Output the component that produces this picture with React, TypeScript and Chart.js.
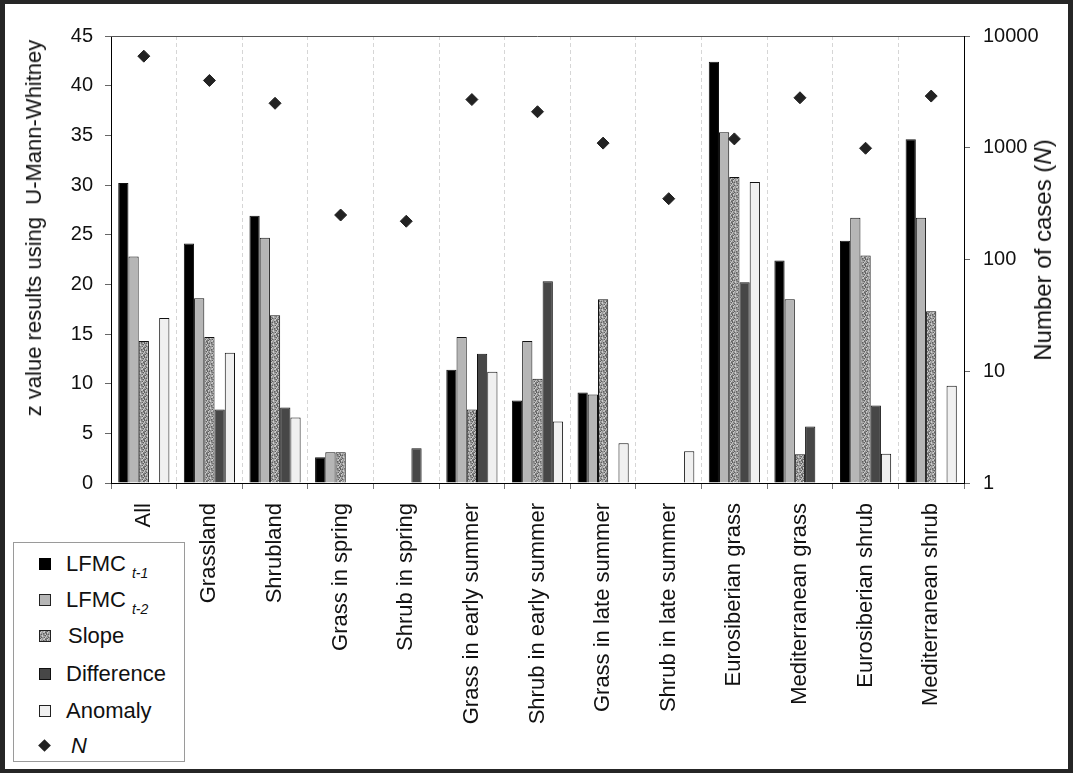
import React, { useEffect, useRef } from 'react';
import { Chart, registerables } from 'chart.js';

Chart.register(...registerables);

const categories = [
  'All',
  'Grassland',
  'Shrubland',
  'Grass in spring',
  'Shrub in spring',
  'Grass in early summer',
  'Shrub in early summer',
  'Grass in late summer',
  'Shrub in late summer',
  'Eurosiberian grass',
  'Mediterranean grass',
  'Eurosiberian shrub',
  'Mediterranean shrub',
];

const lfmcT1 = [30.2, 24.1, 26.9, 2.6, null, 11.4, 8.3, 9.1, null, 42.4, 22.4, 24.4, 34.6];
const lfmcT2 = [22.8, 18.6, 24.7, 3.1, null, 14.7, 14.3, 8.9, null, 35.3, 18.5, 26.7, 26.7];
const slope = [14.3, 14.7, 16.9, 3.1, null, 7.4, 10.5, 18.5, null, 30.8, 2.9, 22.9, 17.3];
const difference = [null, 7.4, 7.6, null, 3.5, 13.0, 20.3, null, null, 20.2, 5.7, 7.8, null];
const anomaly = [16.6, 13.1, 6.6, null, null, 11.2, 6.2, 4.0, 3.2, 30.3, null, 2.95, 9.8];
const nCases = [6600, 4000, 2500, 250, 220, 2700, 2100, 1100, 350, 1200, 2800, 990, 2900];

const leftTicks = [0, 45, 5];
const rightTicks = [1, 10, 100, 1000, 10000];

const FONT = '"Liberation Sans", Arial, Helvetica, sans-serif';

function makeSpeckleTile(): HTMLCanvasElement {
  const size = 7;
  const c = document.createElement('canvas');
  c.width = size;
  c.height = size;
  const ctx = c.getContext('2d')!;
  const img = ctx.createImageData(size, size);
  const shades = [95, 140, 170, 190, 120, 205, 150];
  for (let y = 0; y < size; y++) {
    for (let x = 0; x < size; x++) {
      const k = (x * 3 + y * 5 + ((x * y) % 4)) % shades.length;
      const g = shades[k];
      const i = (y * size + x) * 4;
      img.data[i] = g;
      img.data[i + 1] = g;
      img.data[i + 2] = g;
      img.data[i + 3] = 255;
    }
  }
  ctx.putImageData(img, 0, 0);
  return c;
}

const COL_T1 = '#000000';
const COL_T2 = '#b6b6b6';
const COL_DIFF = '#474747';
const COL_ANOM = '#f0f0f0';
const COL_N = '#222222';

const topBorderPlugin = {
  id: 'topBorder',
  afterDraw(chart: any) {
    const { ctx, chartArea } = chart;
    ctx.save();
    ctx.strokeStyle = '#555';
    ctx.lineWidth = 1;
    ctx.beginPath();
    ctx.moveTo(chartArea.left, Math.round(chartArea.top) + 0.5);
    ctx.lineTo(chartArea.right, Math.round(chartArea.top) + 0.5);
    ctx.stroke();
    ctx.restore();
  },
};

export default function App() {
  const canvasRef = useRef<HTMLCanvasElement | null>(null);
  const slopeLegendRef = useRef<HTMLDivElement | null>(null);

  useEffect(() => {
    const canvas = canvasRef.current!;
    const ctx = canvas.getContext('2d')!;
    const tile = makeSpeckleTile();
    const pattern = ctx.createPattern(tile, 'repeat')!;
    if (slopeLegendRef.current) {
      slopeLegendRef.current.style.backgroundImage = `url(${tile.toDataURL()})`;
    }

    const barCommon = {
      type: 'bar' as const,
      yAxisID: 'y',
      borderColor: '#111',
      borderWidth: 1,
      borderSkipped: 'start' as const,
      categoryPercentage: 0.78,
      barPercentage: 1.0,
    };

    const chart = new Chart(ctx, {
      type: 'bar',
      data: {
        labels: categories,
        datasets: [
          { ...barCommon, label: 'LFMC t-1', data: lfmcT1, backgroundColor: COL_T1 },
          { ...barCommon, label: 'LFMC t-2', data: lfmcT2, backgroundColor: COL_T2 },
          { ...barCommon, label: 'Slope', data: slope, backgroundColor: pattern as any },
          { ...barCommon, label: 'Difference', data: difference, backgroundColor: COL_DIFF },
          { ...barCommon, label: 'Anomaly', data: anomaly, backgroundColor: COL_ANOM },
          {
            type: 'line' as const,
            label: 'N',
            data: nCases,
            yAxisID: 'y2',
            showLine: false,
            pointStyle: 'rectRot',
            pointRadius: 6,
            pointBackgroundColor: COL_N,
            pointBorderColor: COL_N,
            pointBorderWidth: 1,
            backgroundColor: COL_N,
            borderColor: COL_N,
          } as any,
        ],
      },
      options: {
        responsive: false,
        animation: false,
        layout: { padding: { top: 32, left: 0, right: 0, bottom: 0 } },
        plugins: {
          legend: { display: false },
          tooltip: { enabled: false },
          title: { display: false },
        },
        scales: {
          x: {
            type: 'category',
            offset: true,
            grid: {
              display: true,
              offset: true,
              drawOnChartArea: true,
              drawTicks: true,
              color: '#d6d6d6',
              tickColor: '#777',
              tickLength: 6,
              lineWidth: 1,
            },
            border: { display: true, color: '#000', width: 1, dash: [4, 3] },
            ticks: {
              autoSkip: false,
              minRotation: 90,
              maxRotation: 90,
              padding: 14,
              color: '#111',
              font: { family: FONT, size: 22 },
            },
            afterFit(scale: any) {
              scale.height = 286;
            },
          },
          y: {
            type: 'linear',
            position: 'left',
            min: leftTicks[0],
            max: leftTicks[1],
            ticks: {
              stepSize: leftTicks[2],
              padding: 12,
              color: '#111',
              font: { family: FONT, size: 20 },
            },
            grid: {
              display: true,
              drawOnChartArea: false,
              drawTicks: true,
              tickLength: 6,
              tickColor: '#666',
            },
            border: { display: true, color: '#000', width: 1 },
            afterFit(scale: any) {
              scale.width = 106;
            },
          },
          y2: {
            type: 'logarithmic',
            position: 'right',
            min: rightTicks[0],
            max: rightTicks[rightTicks.length - 1],
            afterBuildTicks(scale: any) {
              scale.ticks = rightTicks.map((v) => ({ value: v }));
            },
            ticks: {
              padding: 13,
              color: '#111',
              font: { family: FONT, size: 20 },
              callback: (v: any) => String(v),
            },
            grid: {
              display: true,
              drawOnChartArea: false,
              drawTicks: true,
              tickLength: 6,
              tickColor: '#666',
            },
            border: { display: true, color: '#000', width: 1 },
            afterFit(scale: any) {
              scale.width = 104;
            },
          },
        },
      } as any,
      plugins: [topBorderPlugin],
    });

    return () => {
      chart.destroy();
    };
  }, []);

  const rowTops = [21, 57, 93, 131, 168, 203];
  const marker = (bg: string, border: string, extra: any = {}) => ({
    position: 'absolute' as const,
    left: 25,
    width: 10,
    height: 10,
    background: bg,
    border: `1px solid ${border}`,
    ...extra,
  });
  const textStyle = (top: number, left = 52) => ({
    position: 'absolute' as const,
    left,
    top: top - 14,
    fontFamily: FONT,
    fontSize: 22,
    lineHeight: '28px',
    color: '#111',
    whiteSpace: 'nowrap' as const,
  });
  const subStyle = {
    fontSize: 14,
    fontStyle: 'italic' as const,
    position: 'relative' as const,
    top: 7,
    marginLeft: 6,
  };

  return (
    <div
      style={{
        position: 'fixed',
        left: 0,
        top: 0,
        width: 1073,
        height: 773,
        background: '#262626',
        overflow: 'hidden',
      }}
    >
      <div
        style={{
          position: 'absolute',
          left: 5,
          top: 4,
          width: 1063,
          height: 765,
          background: '#ffffff',
        }}
      >
        <canvas
          ref={canvasRef}
          width={1063}
          height={765}
          style={{ display: 'block', position: 'absolute', left: 0, top: 0 }}
        />
        <div
          style={{
            position: 'absolute',
            left: 29,
            top: 224,
            transform: 'translate(-50%, -50%) rotate(-90deg)',
            fontFamily: FONT,
            fontSize: 22,
            color: '#111',
            whiteSpace: 'pre',
          }}
        >
          {'z value results using  U-Mann-Whitney'}
        </div>
        <div
          style={{
            position: 'absolute',
            left: 1038,
            top: 246,
            transform: 'translate(-50%, -50%) rotate(-90deg)',
            fontFamily: FONT,
            fontSize: 24,
            color: '#111',
            whiteSpace: 'pre',
          }}
        >
          Number of cases (<i>N</i>)
        </div>
        <div
          style={{
            position: 'absolute',
            left: 8,
            top: 538,
            width: 170,
            height: 218,
            border: '1px solid #9a9a9a',
            background: '#fff',
          }}
        >
          <div style={marker(COL_T1, '#000', { top: rowTops[0] - 6 })} />
          <div style={textStyle(rowTops[0])}>
            LFMC<span style={subStyle}>t-1</span>
          </div>
          <div style={marker(COL_T2, '#222', { top: rowTops[1] - 6 })} />
          <div style={textStyle(rowTops[1])}>
            LFMC<span style={subStyle}>t-2</span>
          </div>
          <div
            ref={slopeLegendRef}
            style={marker('#a0a0a0', '#222', { top: rowTops[2] - 6 })}
          />
          <div style={textStyle(rowTops[2], 54)}>Slope</div>
          <div style={marker(COL_DIFF, '#111', { top: rowTops[3] - 6 })} />
          <div style={textStyle(rowTops[3])}>Difference</div>
          <div style={marker(COL_ANOM, '#222', { top: rowTops[4] - 6 })} />
          <div style={textStyle(rowTops[4])}>Anomaly</div>
          <div
            style={{
              position: 'absolute',
              left: 26,
              top: rowTops[5] - 5,
              width: 9,
              height: 9,
              background: COL_N,
              transform: 'rotate(45deg)',
            }}
          />
          <div style={{ ...textStyle(rowTops[5], 57), fontStyle: 'italic' }}>N</div>
        </div>
      </div>
    </div>
  );
}
